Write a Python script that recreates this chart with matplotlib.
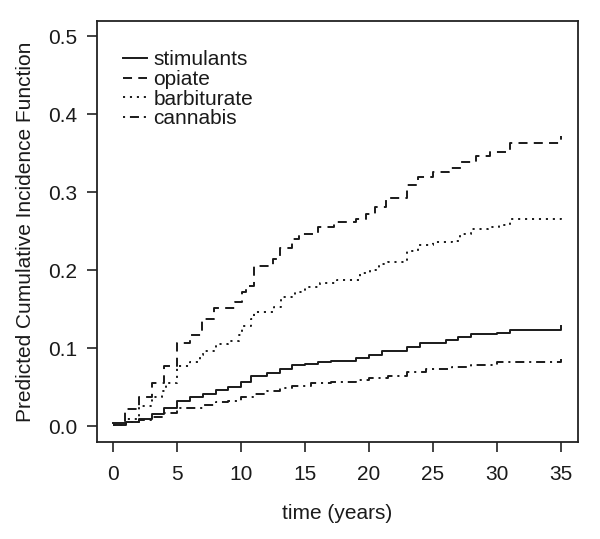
import matplotlib
matplotlib.use("Agg")
import matplotlib.pyplot as plt

plt.rcParams['font.family'] = ['Liberation Sans', 'DejaVu Sans']
plt.rcParams['lines.scale_dashes'] = False

# step curves: event times (years) and predicted CIF after each step
stim_t = [0, 1, 2, 3, 4, 5, 6, 7, 8, 9, 10, 10.8, 12, 13, 14, 15, 16, 17, 19,
          20, 21, 23, 24, 26, 27, 28, 30, 31, 35]
stim_v = [0.004, 0.006, 0.010, 0.016, 0.023, 0.032, 0.037, 0.042, 0.046, 0.051,
          0.057, 0.064, 0.068, 0.074, 0.078, 0.080, 0.082, 0.084, 0.088, 0.091,
          0.096, 0.102, 0.107, 0.111, 0.115, 0.118, 0.120, 0.124, 0.129]

opi_t = [0, 0.9, 2, 3, 4, 5, 6, 6.9, 7.9, 9.5, 10.1, 10.4, 11, 12.5, 13, 14,
         14.5, 16, 17.3, 19, 19.8, 20.5, 21.3, 23, 23.8, 25, 26.3, 27.2, 28.4,
         29.5, 31, 35]
opi_v = [0.002, 0.022, 0.038, 0.055, 0.077, 0.107, 0.117, 0.138, 0.151, 0.159,
         0.172, 0.180, 0.205, 0.215, 0.228, 0.240, 0.247, 0.256, 0.262, 0.266,
         0.272, 0.281, 0.292, 0.309, 0.319, 0.326, 0.331, 0.339, 0.347, 0.352,
         0.363, 0.372]

barb_t = [0, 1, 2, 3, 3.8, 4.1, 5, 6, 6.8, 7, 8, 9, 9.8, 10.1, 10.8, 11, 12.6,
          13.1, 14.2, 15, 16.2, 17.5, 19.3, 20.1, 20.8, 21.5, 23, 23.8, 25,
          26.5, 27.1, 28, 29.3, 30.2, 31, 35]
barb_v = [0.002, 0.010, 0.026, 0.038, 0.045, 0.055, 0.077, 0.083, 0.091, 0.097,
          0.106, 0.109, 0.117, 0.128, 0.138, 0.147, 0.153, 0.166, 0.172, 0.179,
          0.184, 0.187, 0.196, 0.200, 0.208, 0.211, 0.225, 0.232, 0.236, 0.238,
          0.247, 0.253, 0.256, 0.258, 0.266, 0.270]

can_t = [0, 1, 2, 3, 4, 5, 6, 7, 8, 9, 10, 11, 12, 13, 14, 15.5, 17, 19, 20,
         21.5, 23, 24.5, 26.5, 28, 30, 31, 35]
can_v = [0.002, 0.005, 0.008, 0.012, 0.017, 0.023, 0.024, 0.027, 0.031, 0.033,
         0.038, 0.042, 0.045, 0.049, 0.052, 0.055, 0.057, 0.059, 0.062, 0.065,
         0.070, 0.074, 0.076, 0.079, 0.082, 0.083, 0.086]

labels = ['stimulants', 'opiate', 'barbiturate', 'cannabis']
x_ticks = [0, 5, 10, 15, 20, 25, 30, 35]
y_ticks = [0.0, 0.1, 0.2, 0.3, 0.4, 0.5]

FS = 15

fig = plt.figure(figsize=(6.0, 5.39), dpi=100)
ax = fig.add_axes([0.1617, 0.1805, 0.8017, 0.7805])

styles = ['-', (0, (6.5, 4.5)), (0, (1.5, 3.5)), (0, (1.5, 3.5, 6.5, 3.5))]
series = [(stim_t, stim_v), (opi_t, opi_v), (barb_t, barb_v), (can_t, can_v)]
for (t, v), ls, lab in zip(series, styles, labels):
    ax.step(t, v, where='post', color='#1a1a1a', lw=1.4, ls=ls, label=lab)

ax.set_xlim(-1.28, 36.36)
ax.set_ylim(-0.0197, 0.5193)
ax.set_xticks(x_ticks)
ax.set_xticklabels([str(x) for x in x_ticks])
ax.set_yticks(y_ticks)
ax.set_yticklabels(['%.1f' % y for y in y_ticks])
ax.tick_params(direction='out', length=7.5, width=1.2, labelsize=FS,
               color='#222222', labelcolor='#1a1a1a')
ax.tick_params(axis='x', pad=9)
ax.tick_params(axis='y', pad=7)
for s in ax.spines.values():
    s.set_linewidth(1.3)
    s.set_color('#222222')

ax.set_xlabel('time (years)', fontsize=FS, labelpad=15, color='#1a1a1a')
ax.set_ylabel('Predicted Cumulative Incidence Function', fontsize=FS,
              labelpad=9, color='#1a1a1a')

ax.legend(loc='upper left', bbox_to_anchor=(0.054, 0.930), frameon=False,
          fontsize=FS, handlelength=1.15, handletextpad=0.3, labelspacing=0.03,
          borderpad=0, borderaxespad=0, labelcolor='#1a1a1a')

fig.savefig('out.png', dpi=100)
